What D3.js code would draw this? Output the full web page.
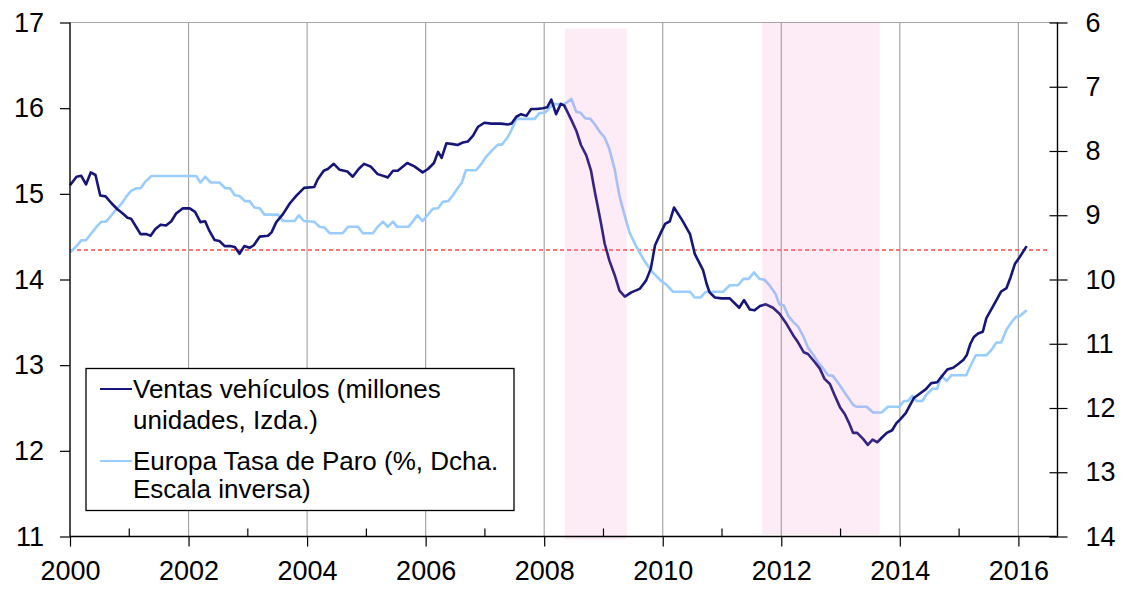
<html><head>
<meta charset="utf-8">
<script src="https://d3js.org/d3.v7.min.js"></script>
<style>
  body { margin: 0; background: #fff; }
  text { font-family: "Liberation Sans", Arial, sans-serif; fill: #000; }
  .grid { stroke: #a6a6a6; stroke-width: 1.2px; }
</style>
</head>
<body>
<svg id="chart" width="1124" height="590"></svg>
<script>

// años (decimal) y valores
const ventas = [
  [2000.00,15.10],[2000.11,15.20],[2000.19,15.21],[2000.27,15.11],[2000.35,15.25],[2000.43,15.22],
  [2000.51,14.98],[2000.60,14.97],[2000.70,14.89],[2000.80,14.82],[2000.89,14.77],[2000.97,14.72],
  [2001.03,14.71],[2001.12,14.61],[2001.19,14.53],[2001.29,14.53],[2001.36,14.51],[2001.44,14.59],
  [2001.53,14.64],[2001.62,14.63],[2001.71,14.68],[2001.79,14.77],[2001.90,14.83],[2002.02,14.83],
  [2002.11,14.79],[2002.20,14.67],[2002.28,14.68],[2002.35,14.57],[2002.44,14.46],[2002.52,14.45],
  [2002.61,14.39],[2002.70,14.39],[2002.78,14.38],[2002.86,14.30],[2002.94,14.39],[2003.03,14.37],
  [2003.10,14.40],[2003.20,14.50],[2003.34,14.51],[2003.40,14.55],[2003.48,14.67],[2003.59,14.76],
  [2003.71,14.89],[2003.82,14.98],[2003.95,15.07],[2004.12,15.08],[2004.18,15.17],[2004.28,15.27],
  [2004.35,15.29],[2004.45,15.35],[2004.55,15.28],[2004.68,15.26],[2004.77,15.20],[2004.87,15.29],
  [2004.96,15.35],[2005.07,15.32],[2005.19,15.23],[2005.33,15.20],[2005.36,15.19],[2005.45,15.27],
  [2005.53,15.27],[2005.69,15.36],[2005.81,15.32],[2005.95,15.25],[2006.04,15.29],[2006.14,15.36],
  [2006.21,15.49],[2006.27,15.42],[2006.35,15.59],[2006.46,15.58],[2006.54,15.57],[2006.63,15.60],
  [2006.71,15.61],[2006.80,15.68],[2006.88,15.78],[2006.99,15.83],[2007.11,15.82],[2007.27,15.82],
  [2007.39,15.81],[2007.45,15.82],[2007.53,15.90],[2007.61,15.93],[2007.70,15.91],[2007.78,15.99],
  [2007.87,15.99],[2007.98,16.00],[2008.05,16.01],[2008.12,16.10],[2008.20,15.93],[2008.28,16.05],
  [2008.34,16.03],[2008.46,15.86],[2008.54,15.74],[2008.62,15.57],[2008.71,15.45],[2008.79,15.27],
  [2008.85,15.04],[2008.91,14.83],[2008.96,14.65],[2009.02,14.42],[2009.10,14.22],[2009.19,14.05],
  [2009.27,13.87],[2009.36,13.80],[2009.47,13.85],[2009.61,13.89],[2009.72,13.99],[2009.80,14.13],
  [2009.87,14.40],[2009.97,14.55],[2010.04,14.65],[2010.12,14.68],[2010.19,14.84],[2010.33,14.69],
  [2010.46,14.53],[2010.54,14.30],[2010.68,14.11],[2010.74,13.95],[2010.79,13.85],[2010.88,13.79],
  [2010.99,13.78],[2011.13,13.78],[2011.29,13.67],[2011.37,13.76],[2011.47,13.65],[2011.55,13.64],
  [2011.64,13.69],[2011.74,13.71],[2011.86,13.67],[2011.97,13.60],[2012.09,13.48],[2012.20,13.35],
  [2012.28,13.27],[2012.38,13.15],[2012.45,13.13],[2012.56,13.04],[2012.65,12.96],[2012.73,12.84],
  [2012.82,12.78],[2012.90,12.65],[2012.99,12.51],[2013.07,12.43],[2013.14,12.33],[2013.21,12.21],
  [2013.28,12.21],[2013.38,12.14],[2013.46,12.07],[2013.54,12.13],[2013.62,12.10],[2013.69,12.15],
  [2013.78,12.21],[2013.87,12.24],[2013.94,12.32],[2014.01,12.37],[2014.10,12.44],[2014.17,12.53],
  [2014.24,12.62],[2014.34,12.67],[2014.44,12.72],[2014.53,12.79],[2014.63,12.80],[2014.72,12.88],
  [2014.80,12.95],[2014.90,12.97],[2014.98,13.01],[2015.07,13.06],[2015.13,13.12],[2015.19,13.25],
  [2015.25,13.33],[2015.32,13.37],[2015.40,13.39],[2015.46,13.55],[2015.55,13.66],[2015.63,13.76],
  [2015.71,13.86],[2015.80,13.90],[2015.87,14.03],[2015.94,14.18],[2016.02,14.26],[2016.14,14.39]
];

// tasa de paro europea (%), eje derecho invertido
const paro = [
  [2000.00,9.58],[2000.11,9.48],[2000.19,9.39],[2000.27,9.39],[2000.36,9.28],[2000.44,9.19],
  [2000.53,9.10],[2000.61,9.10],[2000.70,9.00],[2000.78,8.91],[2000.87,8.82],[2000.95,8.71],
  [2001.03,8.62],[2001.12,8.58],[2001.19,8.58],[2001.27,8.48],[2001.37,8.39],[2002.13,8.39],
  [2002.20,8.49],[2002.28,8.40],[2002.37,8.49],[2002.52,8.49],[2002.62,8.58],[2002.70,8.58],
  [2002.78,8.69],[2002.86,8.70],[2002.95,8.78],[2003.03,8.78],[2003.11,8.88],[2003.20,8.89],
  [2003.28,8.99],[2003.51,8.99],[2003.59,9.09],[2003.79,9.09],[2003.86,9.00],[2003.95,9.09],
  [2004.12,9.10],[2004.21,9.18],[2004.29,9.19],[2004.38,9.28],[2004.60,9.28],[2004.69,9.18],
  [2004.86,9.18],[2004.94,9.28],[2005.11,9.28],[2005.19,9.18],[2005.28,9.10],[2005.36,9.18],
  [2005.45,9.10],[2005.52,9.18],[2005.71,9.18],[2005.79,9.09],[2005.86,9.00],[2005.95,9.09],
  [2006.03,9.00],[2006.12,8.90],[2006.21,8.89],[2006.29,8.79],[2006.38,8.78],[2006.46,8.69],
  [2006.54,8.58],[2006.61,8.49],[2006.68,8.30],[2006.85,8.30],[2006.94,8.20],[2007.02,8.09],
  [2007.12,7.99],[2007.22,7.90],[2007.29,7.90],[2007.38,7.79],[2007.44,7.69],[2007.53,7.50],
  [2007.84,7.50],[2007.92,7.41],[2008.02,7.40],[2008.10,7.32],[2008.15,7.27],[2008.34,7.27],
  [2008.46,7.19],[2008.54,7.39],[2008.62,7.41],[2008.69,7.49],[2008.78,7.50],[2008.85,7.58],
  [2008.93,7.69],[2009.02,7.79],[2009.10,7.97],[2009.19,8.29],[2009.27,8.70],[2009.36,9.01],
  [2009.44,9.27],[2009.55,9.48],[2009.69,9.71],[2009.83,9.89],[2009.97,10.02],[2010.06,10.08],
  [2010.17,10.19],[2010.46,10.19],[2010.54,10.28],[2010.64,10.28],[2010.73,10.19],[2011.02,10.19],
  [2011.13,10.09],[2011.27,10.09],[2011.36,9.99],[2011.45,9.99],[2011.54,9.89],[2011.63,9.99],
  [2011.71,10.00],[2011.81,10.10],[2011.90,10.22],[2011.97,10.39],[2012.04,10.40],[2012.12,10.57],
  [2012.20,10.66],[2012.28,10.73],[2012.37,10.88],[2012.45,11.06],[2012.54,11.17],[2012.62,11.29],
  [2012.71,11.39],[2012.79,11.49],[2012.87,11.50],[2012.96,11.61],[2013.04,11.72],[2013.13,11.84],
  [2013.21,11.95],[2013.27,11.98],[2013.44,11.98],[2013.55,12.07],[2013.69,12.07],[2013.80,11.98],
  [2013.99,11.98],[2014.07,11.89],[2014.14,11.89],[2014.21,11.81],[2014.28,11.89],[2014.38,11.89],
  [2014.45,11.79],[2014.55,11.70],[2014.63,11.70],[2014.70,11.50],[2014.79,11.58],[2014.87,11.49],
  [2015.12,11.49],[2015.19,11.35],[2015.28,11.18],[2015.46,11.18],[2015.55,11.09],[2015.63,10.98],
  [2015.71,10.98],[2015.80,10.78],[2015.88,10.67],[2015.96,10.58],[2016.02,10.57],[2016.14,10.48]
];

const recesiones = [[2008.35, 2009.39], [2011.68, 2013.66]];
const referencia = 14.345;           // línea roja discontinua (eje izdo.)
const añosTicks = d3.range(2000, 2017, 2);
const añosMenores = d3.range(2001, 2017, 2);
const ticksIzda = d3.range(11, 18);
const ticksDcha = d3.range(6, 15);
const leyenda = [
  { nombre: ["Ventas vehículos (millones", "unidades, Izda.)"], color: "#16167a" },
  { nombre: ["Europa Tasa de Paro (%, Dcha.", "Escala inversa)"], color: "#99ccff" }
];

const svg = d3.select("#chart");
const mLeft = 70, mRight = 1057.5, mTop = 22.5, mBottom = 536.5;

const x = d3.scaleLinear().domain([2000, 2016.66]).range([mLeft, mRight]);
const yL = d3.scaleLinear().domain([11, 17]).range([mBottom, mTop]);
const yR = d3.scaleLinear().domain([6, 14]).range([mTop, mBottom]);

// rejilla vertical
svg.append("g").selectAll("line").data(añosTicks.slice(1))
  .join("line").attr("class", "grid")
  .attr("x1", d => x(d)).attr("x2", d => x(d))
  .attr("y1", mTop).attr("y2", mBottom);

// borde superior
svg.append("line").attr("class", "grid")
  .attr("x1", mLeft).attr("x2", mRight).attr("y1", mTop).attr("y2", mTop);

// línea de referencia
svg.append("line")
  .attr("x1", mLeft).attr("x2", mRight - 10)
  .attr("y1", yL(referencia)).attr("y2", yL(referencia))
  .attr("stroke", "#ff4a4a").attr("stroke-width", 1.5)
  .attr("stroke-dasharray", "4,3");

// series
const lineaParo = d3.line().x(d => x(d[0])).y(d => yR(d[1]));
const lineaVentas = d3.line().x(d => x(d[0])).y(d => yL(d[1]));

svg.append("path").datum(paro)
  .attr("d", lineaParo).attr("fill", "none")
  .attr("stroke", leyenda[1].color).attr("stroke-width", 2.6)
  .attr("stroke-linejoin", "round");

svg.append("path").datum(ventas)
  .attr("d", lineaVentas).attr("fill", "none")
  .attr("stroke", leyenda[0].color).attr("stroke-width", 2.6)
  .attr("stroke-linejoin", "round");

// sombreado (encima de las líneas, semitransparente)
svg.append("g").selectAll("rect").data(recesiones)
  .join("rect")
  .attr("x", d => x(d[0])).attr("width", d => x(d[1]) - x(d[0]))
  .attr("y", (d, i) => i == 0 ? mTop + 6 : mTop)
  .attr("height", (d, i) => i == 0 ? mBottom - mTop - 3 : mBottom - mTop - 2)
  .attr("fill", "#f078be").attr("fill-opacity", 0.15);

// eje izquierdo
const axL = svg.append("g").attr("transform", `translate(${mLeft},0)`)
  .call(d3.axisLeft(yL).tickValues(ticksIzda).tickFormat(d3.format("d")).tickSize(10).tickPadding(16));
// eje derecho
const axR = svg.append("g").attr("transform", `translate(${mRight},0)`)
  .call(d3.axisRight(yR).tickValues(ticksDcha).tickFormat(d3.format("d")).tickSize(10).tickPadding(18));
axR.selectAll(".tick line").attr("x1", -8);
// eje inferior
const axB = svg.append("g").attr("transform", `translate(0,${mBottom})`)
  .call(d3.axisBottom(x).tickValues(añosTicks).tickFormat(d3.format("d")).tickSize(10).tickPadding(14));
svg.append("g").selectAll("line").data(añosMenores)
  .join("line")
  .attr("x1", d => x(d)).attr("x2", d => x(d))
  .attr("y1", mBottom - 8).attr("y2", mBottom)
  .attr("stroke", "#000").attr("stroke-width", 1.2);

[axL, axR, axB].forEach(a => {
  a.select(".domain").attr("stroke", "#000").attr("stroke-width", 1.4);
  a.selectAll(".tick line").attr("stroke", "#000").attr("stroke-width", 1.2);
  a.selectAll(".tick text").style("font-size", "27px").attr("fill", "#000");
});
axB.select(".domain").attr("d", `M${mLeft},0H${mRight}`);
axL.select(".domain").attr("d", `M0,${mTop}V${mBottom}`);
axR.select(".domain").attr("d", `M0,${mTop}V${mBottom}`);

// leyenda
const lg = svg.append("g");
lg.append("rect").attr("x", 86).attr("y", 368.5).attr("width", 428).attr("height", 142)
  .attr("fill", "#fff").attr("stroke", "#000").attr("stroke-width", 1.3);
const filas = [[389, 398, 429], [461, 470, 498]];
leyenda.forEach((s, i) => {
  lg.append("line").attr("x1", 100).attr("x2", 132)
    .attr("y1", filas[i][0]).attr("y2", filas[i][0])
    .attr("stroke", s.color).attr("stroke-width", 2);
  s.nombre.forEach((t, j) => {
    lg.append("text").attr("x", 133).attr("y", filas[i][1 + j])
      .style("font-size", "26px").text(t);
  });
});

</script>
</body>
</html>
